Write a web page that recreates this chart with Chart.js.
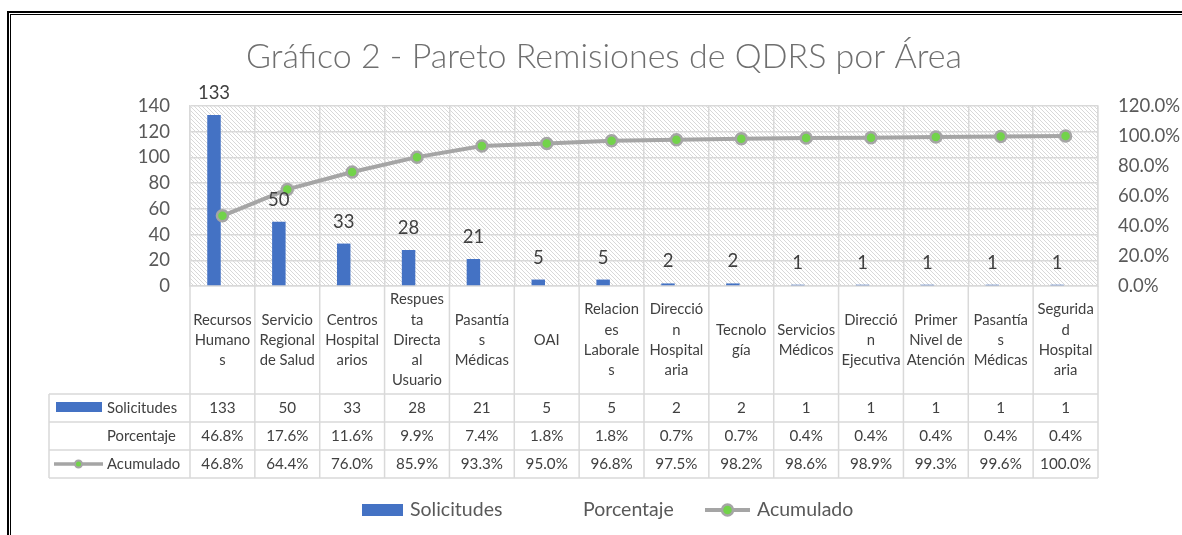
<!DOCTYPE html>
<html>
<head>
<meta charset="utf-8">
<script src="https://cdn.jsdelivr.net/npm/chart.js@4.4.1/dist/chart.umd.min.js"></script>
<style>
  html, body { margin: 0; padding: 0; background: #fff; }
  #wrap { position: relative; width: 1182px; height: 535px; }
</style>
</head>
<body>
<div id="wrap"><canvas id="paretoChart" width="1182" height="535"></canvas></div>
<script>
// categorias (ya partidas en lineas como en la tabla de Excel)
const areas = [
  ['Recursos', 'Humano', 's'],
  ['Servicio', 'Regional', 'de Salud'],
  ['Centros', 'Hospital', 'arios'],
  ['Respues', 'ta', 'Directa', 'al', 'Usuario'],
  ['Pasantía', 's', 'Médicas'],
  ['OAI'],
  ['Relacion', 'es', 'Laborale', 's'],
  ['Direcció', 'n', 'Hospital', 'aria'],
  ['Tecnolo', 'gía'],
  ['Servicios', 'Médicos'],
  ['Direcció', 'n', 'Ejecutiva'],
  ['Primer', 'Nivel de', 'Atención'],
  ['Pasantía', 's', 'Médicas'],
  ['Segurida', 'd', 'Hospital', 'aria']
];
const solicitudes = [133, 50, 33, 28, 21, 5, 5, 2, 2, 1, 1, 1, 1, 1];
const porcentaje = [0.468, 0.176, 0.116, 0.099, 0.074, 0.018, 0.018, 0.007, 0.007, 0.004, 0.004, 0.004, 0.004, 0.004];
const acumulado = [0.468, 0.644, 0.760, 0.859, 0.933, 0.950, 0.968, 0.975, 0.982, 0.986, 0.989, 0.993, 0.996, 1.000];

const BLUE = '#4472C4';
const GRAY_LINE = '#A5A5A5';
const GREEN = '#72D34A';
const GRID = '#d9d9d9';
const TEXT = '#404040';
const AXIS_TEXT = '#595959';

Chart.defaults.font.family = 'Lato';

const pct = v => (v * 100).toFixed(1) + '%';

function hatchPattern(ctx) {
  const c = document.createElement('canvas');
  c.width = 4; c.height = 4;
  const g = c.getContext('2d');
  g.fillStyle = '#fff';
  g.fillRect(0, 0, 4, 4);
  g.fillStyle = '#d8d8d8';
  for (let i = 0; i < 4; i++) g.fillRect(i, i, 1, 1);
  return ctx.createPattern(c, 'repeat');
}

function drawLineKey(ctx, x1, x2, y, lw, r, bw) {
  ctx.strokeStyle = GRAY_LINE;
  ctx.lineWidth = lw;
  ctx.beginPath();
  ctx.moveTo(x1, y); ctx.lineTo(x2, y);
  ctx.stroke();
  ctx.beginPath();
  ctx.arc((x1 + x2) / 2, y, r, 0, Math.PI * 2);
  ctx.fillStyle = GREEN;
  ctx.fill();
  ctx.lineWidth = bw;
  ctx.stroke();
}

const paretoExtras = {
  id: 'paretoExtras',
  beforeDraw(chart) {
    const { ctx, chartArea: a } = chart;
    ctx.save();
    ctx.fillStyle = '#fff';
    ctx.fillRect(0, 0, chart.width, chart.height);
    ctx.fillStyle = hatchPattern(ctx);
    ctx.fillRect(a.left, a.top, a.right - a.left, a.bottom - a.top);
    ctx.restore();
  },
  afterDatasetsDraw(chart) {
    // etiquetas de datos sobre las barras
    const ctx = chart.ctx;
    const meta = chart.getDatasetMeta(0);
    ctx.save();
    ctx.font = '18.5px Lato';
    ctx.fillStyle = TEXT;
    ctx.textAlign = 'center';
    ctx.textBaseline = 'middle';
    meta.data.forEach((bar, i) => ctx.fillText(String(solicitudes[i]), bar.x, bar.y - 22));
    ctx.restore();
  },
  afterDraw(chart) {
    const { ctx, chartArea: a } = chart;
    const xs = chart.scales.x;
    const n = areas.length;
    const colW = (a.right - a.left) / n;
    const top = a.bottom;
    const headH = 108, rowH = 28, tableLeft = 49;
    const rowsTop = top + headH;
    const bottom = rowsTop + 3 * rowH;

    ctx.save();
    // lineas de la tabla
    ctx.strokeStyle = GRID;
    ctx.lineWidth = 1.5;
    ctx.beginPath();
    for (let r = 0; r <= 3; r++) {
      ctx.moveTo(tableLeft, rowsTop + r * rowH);
      ctx.lineTo(a.right, rowsTop + r * rowH);
    }
    for (let c = 0; c <= n; c++) {
      ctx.moveTo(a.left + c * colW, top);
      ctx.lineTo(a.left + c * colW, bottom);
    }
    ctx.moveTo(tableLeft, rowsTop);
    ctx.lineTo(tableLeft, bottom);
    ctx.stroke();

    // categorias
    ctx.font = '14.8px Lato';
    ctx.fillStyle = TEXT;
    ctx.textAlign = 'center';
    ctx.textBaseline = 'middle';
    const lineH = 20.2;
    areas.forEach((lines, i) => {
      const cx = xs.getPixelForValue(i);
      const y0 = top + headH / 2 - (lines.length - 1) * lineH / 2;
      lines.forEach((t, k) => ctx.fillText(t, cx, y0 + k * lineH));
    });

    // valores
    ctx.font = '15.2px Lato';
    const rows = [solicitudes.map(String), porcentaje.map(pct), acumulado.map(pct)];
    rows.forEach((vals, r) => {
      const cy = rowsTop + r * rowH + rowH / 2;
      vals.forEach((v, i) => ctx.fillText(v, xs.getPixelForValue(i), cy));
    });

    // claves de la tabla
    ctx.font = '14.8px Lato';
    const names = chart.data.datasets.map(d => d.label);
    ctx.textAlign = 'left';
    names.forEach((name, r) => {
      ctx.fillStyle = TEXT;
      ctx.fillText(name, 107, rowsTop + r * rowH + rowH / 2);
    });
    ctx.fillStyle = BLUE;
    ctx.fillRect(56, rowsTop + 8, 46, 10);
    drawLineKey(ctx, 54, 103, rowsTop + 2 * rowH + rowH / 2, 3.5, 3.5, 2);

    // leyenda inferior
    const ly = 510;
    ctx.font = '19.5px Lato';
    ctx.fillStyle = BLUE;
    ctx.fillRect(362, ly - 6, 41, 12);
    ctx.fillStyle = AXIS_TEXT;
    ctx.textAlign = 'left';
    ctx.fillText(names[0], 410, ly);
    ctx.fillText(names[1], 583, ly);
    drawLineKey(ctx, 705, 750, ly, 4, 5.5, 2.5);
    ctx.fillStyle = AXIS_TEXT;
    ctx.fillText(names[2], 757, ly);

    // marco doble
    ctx.fillStyle = '#000';
    ctx.fillRect(7, 11, 2, chart.height - 11);
    ctx.fillRect(7, 11, chart.width - 7, 2);
    ctx.fillRect(10, 14, 1, chart.height - 14);
    ctx.fillRect(10, 14, chart.width - 10, 1);
    ctx.restore();
  }
};

const ctx = document.getElementById('paretoChart');
new Chart(ctx, {
  data: {
    labels: areas,
    datasets: [
      {
        type: 'bar', label: 'Solicitudes', data: solicitudes,
        backgroundColor: BLUE, yAxisID: 'y', order: 2,
        categoryPercentage: 0.52, barPercentage: 0.8
      },
      {
        type: 'bar', label: 'Porcentaje', data: porcentaje,
        backgroundColor: 'rgba(0,0,0,0)', yAxisID: 'y', order: 3,
        categoryPercentage: 0.52, barPercentage: 0.8
      },
      {
        type: 'line', label: 'Acumulado', data: acumulado,
        borderColor: GRAY_LINE, borderWidth: 4, tension: 0,
        pointRadius: 5.5, pointBorderWidth: 2.5,
        pointBackgroundColor: GREEN, pointBorderColor: GRAY_LINE,
        yAxisID: 'y1', order: 1
      }
    ]
  },
  options: {
    responsive: false,
    animation: false,
    layout: { padding: { left: 26, right: 0, top: 0, bottom: 0 } },
    plugins: {
      legend: { display: false },
      tooltip: { enabled: false },
      title: {
        display: true,
        text: 'Gráfico 2 - Pareto Remisiones de QDRS por Área',
        color: '#6f6f6f',
        font: { size: 34, weight: '300', family: 'Lato', lineHeight: 1.2 },
        padding: { top: 37, bottom: 28.2 }
      }
    },
    scales: {
      x: {
        offset: true,
        grid: { offset: true, color: GRID, lineWidth: 1.5, drawTicks: false },
        border: { color: GRID, width: 1.5 },
        ticks: { display: false },
        afterFit(s) { s.height = 535 - 286; }
      },
      y: {
        position: 'left',
        min: 0, max: 140,
        ticks: { stepSize: 20, color: AXIS_TEXT, font: { size: 18.5 }, padding: 20 },
        grid: { color: GRID, lineWidth: 1.5, drawTicks: false },
        border: { color: GRID, width: 1.5 },
        afterFit(s) { s.width = 164; }
      },
      y1: {
        position: 'right',
        min: 0, max: 1.2,
        ticks: { stepSize: 0.2, color: AXIS_TEXT, font: { size: 18.5 }, padding: 20, callback: v => pct(v) },
        grid: { display: false, drawTicks: false },
        border: { color: GRID, width: 1.5 },
        afterFit(s) { s.width = 84; }
      }
    }
  },
  plugins: [paretoExtras]
});
</script>
</body>
</html>
